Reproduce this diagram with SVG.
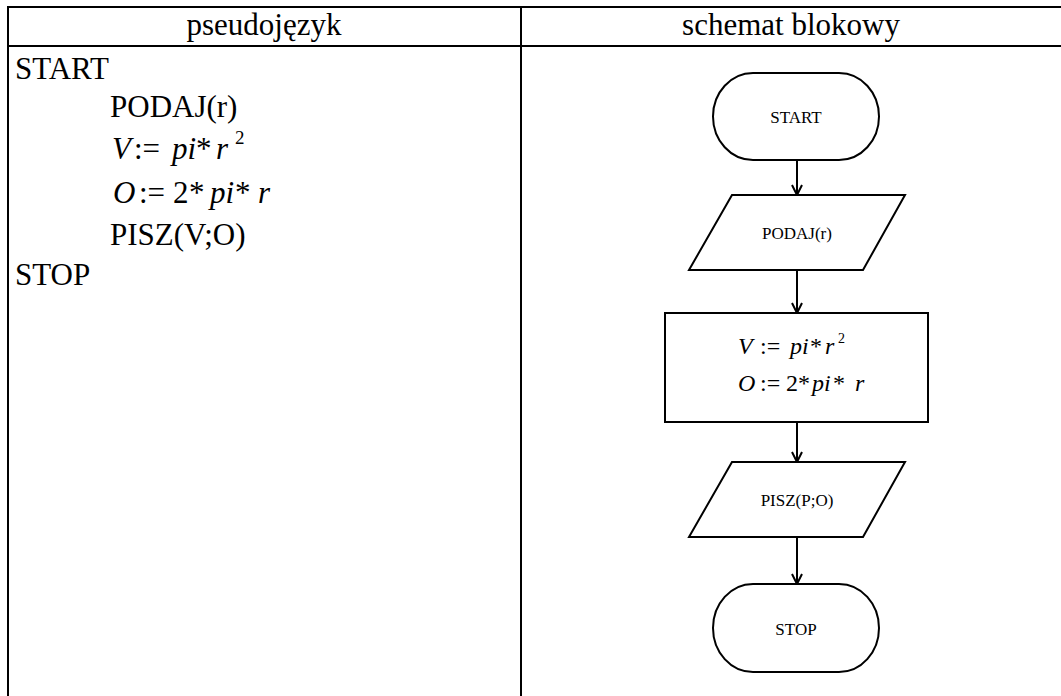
<svg xmlns="http://www.w3.org/2000/svg" width="1061" height="696" viewBox="0 0 1061 696">
  <style>
    .grid { stroke: #000; stroke-width: 2; fill: none; }
    .txt { font-family: "Liberation Serif", "Times New Roman", serif; fill: #000; }
    .hd { font-size: 31px; }
    .code { font-size: 31px; }
    .it { font-style: italic; }
    .shape { stroke: #000; stroke-width: 2; fill: #fff; }
    .lbl { font-family: "Liberation Serif", "Times New Roman", serif; font-size: 17px; fill: #000; text-anchor: middle; }
    .frm { font-family: "Liberation Serif", "Times New Roman", serif; font-size: 24px; fill: #000; }
    .link { stroke: #000; stroke-width: 2; fill: none; marker-end: url(#arrow); }
  </style>
  <defs>
    <marker id="arrow" viewBox="0 0 12 12" refX="11" refY="6" markerWidth="12" markerHeight="12" markerUnits="userSpaceOnUse" orient="auto">
      <path d="M1,1 L11,6 L1,11" fill="none" stroke="#000" stroke-width="2"/>
    </marker>
  </defs>
  <rect width="1061" height="696" fill="#fff"/>

  <!-- table frame -->
  <g id="table">
    <line class="grid" x1="8" y1="7" x2="1061" y2="7"/>
    <line class="grid" x1="8" y1="46" x2="1061" y2="46"/>
    <line class="grid" x1="8" y1="6" x2="8" y2="696"/>
    <line class="grid" x1="521" y1="6" x2="521" y2="696"/>
    <text class="txt hd" x="264" y="35" text-anchor="middle">pseudojęzyk</text>
    <text class="txt hd" x="791" y="35" text-anchor="middle">schemat blokowy</text>
  </g>

  <!-- pseudocode listing -->
  <g id="pseudocode" class="txt code">
    <text x="15" y="79">START</text>
    <text x="110" y="117">PODAJ(r)</text>
    <text y="159"><tspan class="it" x="112">V</tspan><tspan x="134">:=</tspan><tspan class="it" x="172">pi</tspan><tspan x="196">*</tspan><tspan class="it" x="216">r</tspan><tspan x="235" y="144" font-size="19">2</tspan></text>
    <text y="203"><tspan class="it" x="113">O</tspan><tspan x="139">:=</tspan><tspan x="173">2</tspan><tspan x="189">*</tspan><tspan class="it" x="210">pi</tspan><tspan x="235">*</tspan><tspan class="it" x="258">r</tspan></text>
    <text x="110" y="245">PISZ(V;O)</text>
    <text x="15" y="285">STOP</text>
  </g>

  <!-- flowchart nodes -->
  <g id="start">
    <rect class="shape" x="713" y="73" width="166" height="87" rx="40" ry="43.5"/>
    <text class="lbl" x="796" y="123">START</text>
  </g>
  <g id="input">
    <polygon class="shape" points="732,195 905,195 863,270 689,270"/>
    <text class="lbl" x="797" y="239">PODAJ(r)</text>
  </g>
  <g id="process">
    <rect class="shape" x="665" y="313" width="263" height="109"/>
    <text class="frm" y="354"><tspan class="it" x="738">V</tspan><tspan x="760">:=</tspan><tspan class="it" x="790">pi</tspan><tspan x="810">*</tspan><tspan class="it" x="825">r</tspan><tspan x="838" y="343" font-size="14">2</tspan></text>
    <text class="frm" y="391"><tspan class="it" x="738">O</tspan><tspan x="760">:=</tspan><tspan x="786">2</tspan><tspan x="798">*</tspan><tspan class="it" x="812">pi</tspan><tspan x="833">*</tspan><tspan class="it" x="855">r</tspan></text>
  </g>
  <g id="output">
    <polygon class="shape" points="732,462 905,462 863,537 689,537"/>
    <text class="lbl" x="797" y="506">PISZ(P;O)</text>
  </g>
  <g id="stop">
    <rect class="shape" x="713" y="584" width="166" height="88" rx="40" ry="44"/>
    <text class="lbl" x="796" y="635">STOP</text>
  </g>

  <!-- connectors -->
  <g id="connectors">
    <line class="link" x1="797" y1="160" x2="797" y2="195"/>
    <line class="link" x1="797" y1="270" x2="797" y2="313"/>
    <line class="link" x1="797" y1="422" x2="797" y2="462"/>
    <line class="link" x1="797" y1="537" x2="797" y2="584"/>
  </g>
</svg>
